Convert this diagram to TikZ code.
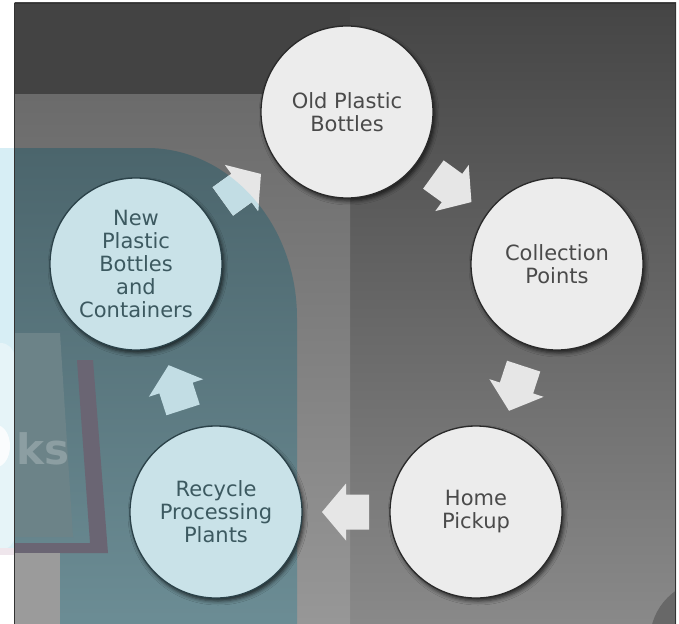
\documentclass[tikz,border=0pt]{standalone}
\usepackage{fontspec}
\setmainfont{DejaVu Sans}
\usetikzlibrary{shadows.blur,calc}
\definecolor{topband}{HTML}{434343}
\definecolor{rightA}{HTML}{454545}
\definecolor{rightB}{HTML}{898989}
\definecolor{leftA}{HTML}{6B6B6B}
\definecolor{leftB}{HTML}{979797}
\definecolor{tealA}{HTML}{4B656C}
\definecolor{tealB}{HTML}{6C8D95}
\definecolor{stripcyan}{HTML}{D7EEF5}
\definecolor{stripwhite}{HTML}{E6F4F8}
\definecolor{stripink}{HTML}{EFE6EC}
\definecolor{circgray}{HTML}{ECECEC}
\definecolor{circborder}{HTML}{2A2A2A}
\definecolor{textgray}{HTML}{4A4A4A}
\definecolor{circcyan}{HTML}{C9E2E8}
\definecolor{cyanborder}{HTML}{2B4249}
\definecolor{cyantext}{HTML}{3C5960}
\definecolor{arrowgray}{HTML}{E6E6E6}
\definecolor{arrowcyan}{HTML}{C2DDE4}
\definecolor{pagecol}{HTML}{6C8388}
\definecolor{bookpurple}{HTML}{6A6573}
\definecolor{lowgray}{HTML}{9B9B9B}
\definecolor{darkblob}{HTML}{686868}
\definecolor{framecol}{HTML}{333333}
\tikzset{
  stage/.style={circle, minimum size=172pt, inner sep=0pt, draw=circborder,
    line width=1.3pt, fill=circgray, text=textgray, align=center,
    font=\fontsize{21}{23}\selectfont,
    blur shadow={shadow xshift=2pt, shadow yshift=-3pt, shadow blur radius=4pt, shadow opacity=70}},
  stagecyan/.style={stage, fill=circcyan, draw=cyanborder, text=cyantext},
  pics/blockarrow/.style={code={
    \fill[#1] (-23pt,-17.5pt) -- (0pt,-17.5pt) -- (0pt,-28.5pt) -- (24pt,0pt)
      -- (0pt,28.5pt) -- (0pt,17.5pt) -- (-23pt,17.5pt) -- cycle;}}
}
\def\tealpath{(14.5,148) -- (147,148) .. controls (229.8,148) and (297,224.1) .. (297,318) -- (297,630) -- (14.5,630) -- cycle}
\begin{document}
\begin{tikzpicture}[x=1pt,y=-1pt]
\useasboundingbox (0,0) rectangle (679,623);
\fill[white] (0,0) rectangle (679,623);
% watermark strip outside the frame
\fill[stripcyan] (0,148) rectangle (14.5,553);
\fill[stripwhite, rounded corners=14pt] (-30,343) rectangle (14.5,550);
\fill[white, opacity=0.8] (-4,446) ellipse[x radius=14pt, y radius=21pt];
\fill[stripink] (0,548) rectangle (14.5,555);
% backgrounds
\shade[top color=rightA, bottom color=rightB] (14.5,3) rectangle (676,623);
\fill[topband] (14.5,3) rectangle (350,95);
\shade[top color=leftA, bottom color=leftB] (14.5,95) rectangle (350,623);
\shade[top color=tealA, bottom color=tealB] \tealpath;
% book logo watermark
\fill[pagecol] (14.5,333) -- (60,333) -- (73,537) -- (14.5,537) -- cycle;
\fill[bookpurple] (77,360) -- (93,360) -- (108,553) -- (14.5,553) -- (14.5,543) -- (90,543) -- cycle;
\fill[lowgray] (14.5,553) rectangle (60,630);
\node[text=white, opacity=0.22, font=\bfseries\fontsize{42}{42}\selectfont, anchor=base west, inner sep=0pt] (wm) at (16,464) {ks};
\begin{scope}
\clip (14.5,3) rectangle (675.5,630);
\fill[darkblob] (710,640) circle[radius=60pt];
\end{scope}
% frame
\draw[framecol, line width=1pt] (14.5,3.5) -- (675.5,3.5) -- (675.5,640);
\draw[framecol, line width=1pt] (14.5,3.5) -- (14.5,640);
% stages
\node[stage] (old) at (347,112) {Old Plastic\\Bottles};
\node[stage] (coll) at (557,264) {Collection\\Points};
\node[stage] (home) at (476,512) {Home\\Pickup};
\node[stagecyan] (rec) at (216,512) {Recycle\\Processing\\Plants};
\node[stagecyan] (new) at (136,264) {New\\Plastic\\Bottles\\and\\Containers};
% arrows
\path let \p1=($(coll)-(old)$), \n1={atan2(\y1,\x1)} in
  ($(old)!0.5!(coll)$) pic[rotate=\n1]{blockarrow=arrowgray};
\path let \p1=($(home)-(coll)$), \n1={atan2(\y1,\x1)} in
  ($(coll)!0.5!(home)$) pic[rotate=\n1]{blockarrow=arrowgray};
\path let \p1=($(rec)-(home)$), \n1={atan2(\y1,\x1)} in
  ($(home)!0.5!(rec)$) pic[rotate=\n1]{blockarrow=arrowgray};
\path let \p1=($(new)-(rec)$), \n1={atan2(\y1,\x1)} in
  ($(rec)!0.5!(new)$) pic[rotate=\n1]{blockarrow=arrowcyan};
\path let \p1=($(old)-(new)$), \n1={atan2(\y1,\x1)} in
  ($(new)!0.5!(old)$) pic[rotate=\n1]{blockarrow=arrowgray};
\begin{scope}
\clip \tealpath;
\path let \p1=($(old)-(new)$), \n1={atan2(\y1,\x1)} in
  ($(new)!0.5!(old)$) pic[rotate=\n1]{blockarrow=arrowcyan};
\end{scope}
\end{tikzpicture}
\end{document}
